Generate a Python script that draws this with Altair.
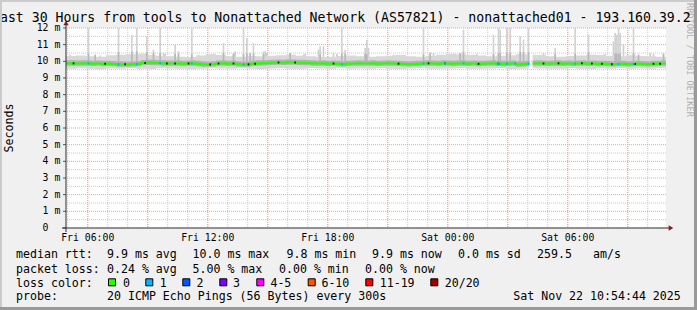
import altair as alt
import pandas as pd

# ---------------- data ----------------
START_HOUR = 4 + 54 / 60 + 44 / 3600      # Fri 04:54:44, hours since Fri 00:00
SPAN_HOURS = 30
STEP_HOURS = 5 / 60                       # one probe round every 300 s
N_STEPS = 360

median_rtt_15min = [
    9.88, 9.88, 9.87, 9.88, 9.88, 9.86, 9.87, 9.85, 9.86, 9.84,
    9.82, 9.82, 9.81, 9.83, 9.84, 9.90, 9.92, 9.91, 9.90, 9.88,
    9.87, 9.87, 9.88, 9.86, 9.87, 9.88, 9.85, 9.82, 9.81, 9.83,
    9.87, 9.88, 9.86, 9.87, 9.83, 9.81, 9.82, 9.86, 9.88, 9.89,
    9.90, 9.92, 9.93, 9.92, 9.94, 9.93, 9.92, 9.91, 9.90, 9.88,
    9.87, 9.88, 9.86, 9.87, 9.85, 9.83, 9.86, 9.87, 9.88, 9.87,
    9.87, 9.88, 9.86, 9.87, 9.88, 9.87, 9.86, 9.84, 9.83, 9.84,
    9.85, 9.87, 9.88, 9.87, 9.86, 9.88, 9.87, 9.86, 9.87, 9.88,
    9.86, 9.87, 9.85, 9.86, 9.87, 9.88, 9.86, 9.85, 9.86, 9.87,
    9.82, 9.83, 9.86, 9.87, 9.88, 9.87, 9.86, 9.87, 9.88, 9.86,
    9.87, 9.86, 9.87, 9.88, 9.86, 9.87, 9.85, 9.86, 9.84, 9.83,
    9.84, 9.85, 9.83, 9.84, 9.86, 9.84, 9.83, 9.85, 9.86, 9.87,
]
smoke_hi_30min = [
    10.32, 10.35, 10.30, 10.28, 10.36, 10.40, 10.42, 10.45, 10.38, 10.33,
    10.30, 10.28, 10.26, 10.35, 10.42, 10.38, 10.30, 10.28, 10.32, 10.30,
    10.33, 10.36, 10.40, 10.34, 10.30, 10.26, 10.28, 10.32, 10.35, 10.30,
    10.28, 10.30, 10.34, 10.38, 10.30, 10.28, 10.34, 10.40, 10.45, 10.42,
    10.38, 10.35, 10.30, 10.33, 10.36, 10.42, 10.40, 10.38, 10.30, 10.28,
    10.32, 10.35, 10.40, 10.38, 10.34, 10.30, 10.36, 10.32, 10.30, 10.28,
]
smoke_lo_30min = [
    9.56, 9.58, 9.55, 9.52, 9.57, 9.55, 9.60, 9.56, 9.54, 9.58,
    9.57, 9.55, 9.53, 9.56, 9.58, 9.57, 9.55, 9.59, 9.56, 9.54,
    9.57, 9.58, 9.55, 9.56, 9.60, 9.57, 9.55, 9.58, 9.56, 9.57,
    9.55, 9.58, 9.56, 9.54, 9.57, 9.59, 9.56, 9.55, 9.57, 9.58,
    9.56, 9.55, 9.57, 9.58, 9.54, 9.56, 9.58, 9.57, 9.55, 9.56,
    9.58, 9.55, 9.54, 9.57, 9.56, 9.58, 9.55, 9.57, 9.56, 9.58,
]
# tall smoke spikes (slowest ping of the round)
spike_steps = [13, 17, 31, 39, 42, 48, 52, 56, 65, 67, 75, 94, 100, 106, 108,
               110, 112, 118, 134, 152, 165, 167, 179, 180, 214, 218, 236, 238,
               256, 259, 260, 264, 266, 272, 274, 277, 293, 305, 313, 329, 330,
               331, 332, 340, 343, 358]
spike_top_ms = [12.0, 10.4, 12.0, 11.6, 12.0, 11.5, 10.7, 12.0, 11.0, 10.6, 12.0,
                11.1, 10.5, 12.0, 11.4, 10.5, 11.1, 10.6, 10.5, 10.9, 12.0, 10.7,
                10.8, 11.3, 12.0, 10.55, 10.5, 11.9, 11.6, 12.0, 11.9, 12.0, 12.0,
                11.5, 11.3, 12.0, 10.8, 12.0, 11.6, 11.7, 11.6, 12.0, 11.7, 12.0,
                10.4, 10.5]
# smaller smoke bumps
bump_steps = [2, 8, 20, 26, 46, 58, 59, 79, 83, 88, 101, 119, 120, 142, 143, 151,
              154, 160, 162, 181, 196, 197, 220, 222, 244, 246, 286, 287, 322,
              323, 328, 334, 350, 352]
bump_top_ms = [10.4, 10.25, 10.35, 10.3, 10.35, 10.5, 10.45, 10.4, 10.35, 10.45,
               10.6, 10.6, 10.5, 10.4, 10.45, 10.7, 10.9, 10.5, 10.45, 10.8, 10.4,
               10.35, 10.5, 10.4, 10.4, 10.45, 10.5, 10.4, 10.4, 10.45, 11.2,
               11.0, 10.5, 10.45]
loss1_steps = [13, 31, 42, 56, 75, 106, 165, 214, 227, 238, 259, 264, 269, 277,
               305, 331, 340]
dark_steps = [4, 23, 35, 47, 60, 65, 73, 86, 91, 100, 109, 113, 127, 137, 160,
              199, 217, 227, 247, 259, 286, 295, 309, 315, 321, 327, 341, 352, 356]
missing_steps = [278, 279]

y_tick_values = list(range(0, 13))
x_tick_hours = [6, 12, 18, 24, 30]
x_tick_labels = ["Fri 06:00", "Fri 12:00", "Fri 18:00", "Sat 00:00", "Sat 06:00"]

loss_labels = ["0", "1", "2", "3", "4-5", "6-10", "11-19", "20/20"]
loss_colors = ["#26ff00", "#00b8ff", "#0059ff", "#7e00ff", "#ff00ff",
               "#ff5500", "#ff0000", "#a10000"]

title_text = "Last 30 Hours from tools to Nonattached Network (AS57821) - nonattached01 - 193.160.39.2"
rtt_stats = ["median rtt:", "9.9 ms avg", "10.0 ms max", "9.8 ms min",
             "9.9 ms now", "0.0 ms sd", "259.5", "am/s"]
loss_stats = ["packet loss:", "0.24 % avg", "5.00 % max", "0.00 % min", "0.00 % now"]
probe_text = ["probe:", "20 ICMP Echo Pings (56 Bytes) every 300s"]
stamp_text = "Sat Nov 22 10:54:44 2025"

# ---------------- layout (pixels, relative to the plot origin) ----------------
W, H = 600, 200
OX, OY = 66, 28
MONO = "DejaVu Sans Mono"
GREEN, BLUE1 = loss_colors[0], loss_colors[1]

# ---------------- tables ----------------
rows, line_rows, seg = [], [], 0
prev_ok = False
for i in range(N_STEPS):
    if i in missing_steps:
        if prev_ok:
            last = rows[-1]
            line_rows.append(dict(t=last["t1"], med=last["med"], lo=last["lo"],
                                  hi=last["hi"], ilo=last["ilo"], ihi=last["ihi"], seg=seg))
            seg += 1
        prev_ok = False
        continue
    t0 = START_HOUR + i * STEP_HOURS
    med = median_rtt_15min[i // 3]
    r = dict(step=i, t0=t0, t1=t0 + STEP_HOURS, med=med,
             lo=smoke_lo_30min[i // 6], hi=smoke_hi_30min[i // 6],
             ilo=med - 0.14, ihi=med + 0.18)
    rows.append(r)
    line_rows.append(dict(t=t0, med=med, lo=r["lo"], hi=r["hi"],
                          ilo=r["ilo"], ihi=r["ihi"], seg=seg))
    prev_ok = True
last = rows[-1]
line_rows.append(dict(t=last["t1"], med=last["med"], lo=last["lo"], hi=last["hi"],
                      ilo=last["ilo"], ihi=last["ihi"], seg=seg))
steps = pd.DataFrame(rows)
line_df = pd.DataFrame(line_rows)
by_step = {r["step"]: r for r in rows}


def step_table(idx, tops=None, half=0.0):
    out = []
    for k, s in enumerate(idx):
        r = by_step[s]
        d = dict(t0=r["t0"], t1=r["t1"], a=r["med"] - half, b=r["med"] + half)
        if tops is not None:
            d["a"], d["b"] = r["med"], tops[k]
            d["mid"] = min(tops[k], r["hi"] + 0.15)
        out.append(d)
    return pd.DataFrame(out)


spikes = step_table(spike_steps, spike_top_ms)
bumps = step_table(bump_steps, bump_top_ms)
losses = step_table(loss1_steps, half=0.07)
darks = step_table(dark_steps, half=0.06)

xs = alt.Scale(domain=[START_HOUR, START_HOUR + SPAN_HOURS], nice=False, zero=False)
ys = alt.Scale(domain=[0, 12], nice=False, zero=False)


def X(f):
    return alt.X(f"{f}:Q", scale=xs, axis=None)


def Y(f):
    return alt.Y(f"{f}:Q", scale=ys, axis=None)


layers = []

# grid
h_minor = pd.DataFrame({"v": [k + 0.5 for k in range(12)]})
h_major = pd.DataFrame({"v": list(range(1, 13))})
v_minor = pd.DataFrame({"h": list(range(5, 35))})
v_major = pd.DataFrame({"h": list(range(6, 35, 3))})
GRID_C, MGRID_C = "#c8c8c8", "#e6a3a3"
layers += [
    alt.Chart(h_minor).mark_rule(color=GRID_C, strokeDash=[1, 1]).encode(y=Y("v")),
    alt.Chart(v_minor).mark_rule(color=GRID_C, strokeDash=[1, 1]).encode(x=X("h")),
    alt.Chart(h_major).mark_rule(color=MGRID_C, strokeDash=[1, 1]).encode(y=Y("v")),
    alt.Chart(v_major).mark_rule(color=MGRID_C, strokeDash=[1, 1]).encode(x=X("h")),
]

# smoke
layers += [
    alt.Chart(spikes).mark_rect(color="#d2d2d2").encode(
        x=X("t0"), x2="t1", y=Y("a"), y2="b"),
    alt.Chart(bumps).mark_rect(color="#cecece").encode(
        x=X("t0"), x2="t1", y=Y("a"), y2="b"),
    alt.Chart(line_df).mark_area(color="#d8d8d8", interpolate="step-after").encode(
        x=X("t"), y=Y("lo"), y2="hi", detail="seg:N"),
    alt.Chart(spikes).mark_rect(color="#b8b8b8").encode(
        x=X("t0"), x2="t1", y=Y("a"), y2="mid"),
    alt.Chart(line_df).mark_area(color="#b2b2b2", interpolate="step-after").encode(
        x=X("t"), y=Y("ilo"), y2="ihi", detail="seg:N"),
    alt.Chart(line_df).mark_line(color=GREEN, strokeWidth=2.2,
                                 interpolate="step-after").encode(
        x=X("t"), y=Y("med"), detail="seg:N"),
    alt.Chart(darks).mark_rect(color="#1a1a1a").encode(
        x=X("t0"), x2="t1", y=Y("a"), y2="b"),
    alt.Chart(losses).mark_rect(color=BLUE1).encode(
        x=X("t0"), x2="t1", y=Y("a"), y2="b"),
]

# ticks
yt = pd.DataFrame({"v": y_tick_values})
layers += [
    alt.Chart(yt).mark_rule(color="#555555").encode(
        y=Y("v"), x=alt.value(-3), x2=alt.value(0)),
]

# axis lines and arrows
one = pd.DataFrame({"a": [0]})
AX_C, ARROW_C = "#2b2b2b", "#7f1f1f"
layers += [
    alt.Chart(one).mark_rule(color=AX_C).encode(
        x=alt.value(0), y=alt.value(H + 4), y2=alt.value(-3)),
    alt.Chart(one).mark_rule(color=AX_C).encode(
        x=alt.value(-4), x2=alt.value(W + 3), y=alt.value(H)),
    alt.Chart(one).mark_point(shape="triangle-up", filled=True, size=28,
                              color=ARROW_C, opacity=1).encode(
        x=alt.value(0), y=alt.value(-5)),
    alt.Chart(one).mark_point(shape="triangle-right", filled=True, size=28,
                              color=ARROW_C, opacity=1).encode(
        x=alt.value(W + 5), y=alt.value(H)),
]

# y labels
yl = pd.DataFrame({"v": y_tick_values[1:], "t": [f"{v} m" for v in y_tick_values[1:]]})
y0 = pd.DataFrame({"v": y_tick_values[:1], "t": [str(y_tick_values[0])]})
layers += [
    alt.Chart(yl).mark_text(align="right", baseline="middle", font=MONO,
                            fontSize=9.8, color="black").encode(
        y=Y("v"), x=alt.value(-5.7), text="t:N"),
    alt.Chart(y0).mark_text(align="right", baseline="middle", font=MONO,
                            fontSize=9.8, color="black").encode(
        y=Y("v"), x=alt.value(-17.5), text="t:N"),
]

# x labels
xl = pd.DataFrame({"h": x_tick_hours, "t": x_tick_labels})
layers += [
    alt.Chart(xl).mark_text(align="center", baseline="alphabetic", font=MONO,
                            fontSize=9.8, color="black").encode(
        x=X("h"), y=alt.value(212.5), text="t:N"),
]


def txt(s, x, y, size=11.6, align="left", color="black", angle=0, baseline="alphabetic"):
    return alt.Chart(one).mark_text(text=s, align=align, baseline=baseline,
                                    font=MONO, fontSize=size, color=color,
                                    angle=angle).encode(
        x=alt.value(x), y=alt.value(y))


# watermark, title, y title
layers += [
    txt("RRDTOOL / TOBI OETIKER", 690 - OX, 3 - OY, size=8.6, color="#b0b0b0",
        angle=90, baseline="middle"),
    txt(title_text, -8 - OX, 22 - OY, size=13.2),
    txt("Seconds", 10 - OX, 128 - OY, size=11.6, align="center", angle=270,
        baseline="middle"),
]

# statistics legend
line1_x = [16, 107, 192.5, 286.5, 372, 458, 537, 593]
line2_x = [16, 107, 192.5, 279, 365]
for s, x in zip(rtt_stats, line1_x):
    layers.append(txt(s, x - OX, 258.4 - OY))
for s, x in zip(loss_stats, line2_x):
    layers.append(txt(s, x - OX, 272.5 - OY))
layers.append(txt("loss color:", 16 - OX, 286.5 - OY))
sq_x = [108.5, 145.8, 182.8, 219.8, 256.8, 308.2, 365.8, 430.8]
lab_x = [123, 159.7, 196.4, 233, 270.4, 321.4, 379.7, 444.7]
for c, lab, sx, lx in zip(loss_colors, loss_labels, sq_x, lab_x):
    layers.append(alt.Chart(one).mark_rect(color=c, stroke="black", strokeWidth=1).encode(
        x=alt.value(sx - OX), x2=alt.value(sx + 7 - OX),
        y=alt.value(278.8 - OY), y2=alt.value(285.8 - OY)))
    layers.append(txt(lab, lx - OX, 286.5 - OY))
layers.append(txt(probe_text[0], 16 - OX, 300.3 - OY))
layers.append(txt(probe_text[1], 107 - OX, 300.3 - OY))
layers.append(txt(stamp_text, 680.8 - OX, 300.3 - OY, align="right"))

# frame
layers += [
    alt.Chart(one).mark_rect(color="#cbcbcb").encode(
        x=alt.value(-OX), x2=alt.value(697 - OX), y=alt.value(-OY), y2=alt.value(2 - OY)),
    alt.Chart(one).mark_rect(color="#cbcbcb").encode(
        x=alt.value(-OX), x2=alt.value(2 - OX), y=alt.value(-OY), y2=alt.value(310 - OY)),
    alt.Chart(one).mark_rect(color="#999999").encode(
        x=alt.value(694 - OX), x2=alt.value(697 - OX), y=alt.value(-OY), y2=alt.value(310 - OY)),
    alt.Chart(one).mark_rect(color="#999999").encode(
        x=alt.value(-OX), x2=alt.value(697 - OX), y=alt.value(307 - OY), y2=alt.value(310 - OY)),
]

chart = alt.layer(*layers).properties(
    width=W, height=H,
    padding={"left": OX, "top": OY, "right": 697 - OX - W, "bottom": 310 - OY - H},
    autosize=alt.AutoSizeParams(type="none"),
    background="#f0f0f0",
).configure_view(stroke=None, fill="white")

chart.save("out.html", embed_options={"renderer": "svg", "actions": False})
